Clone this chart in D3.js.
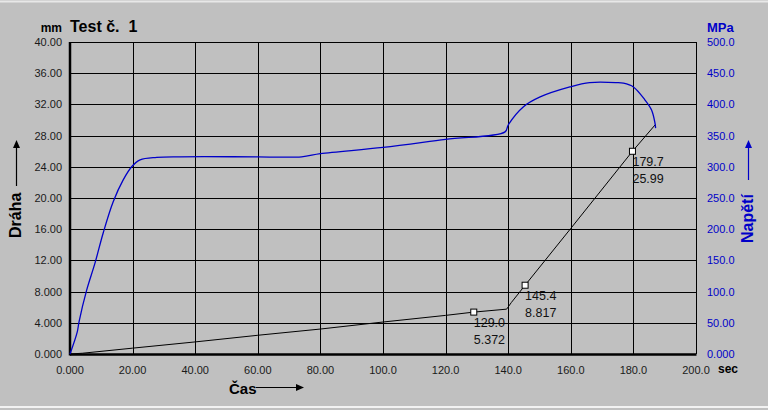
<!DOCTYPE html>
<html><head><meta charset="utf-8">
<script src="https://cdn.jsdelivr.net/npm/d3@7"></script>
<style>html,body{margin:0;padding:0;background:#c0c0c0;}svg{display:block;}</style>
</head><body>
<svg id="c" width="768" height="410"></svg>
<script>
const timeTicks = [0,20,40,60,80,100,120,140,160,180,200];
const timeTickLabels = ["0.000","20.00","40.00","60.00","80.00","100.0","120.0","140.0","160.0","180.0","200.0"];
const drahaTicks = [0,4,8,12,16,20,24,28,32,36,40];
const drahaTickLabels = ["0.000","4.000","8.000","12.00","16.00","20.00","24.00","28.00","32.00","36.00","40.00"];
const napetiTicks = [0,50,100,150,200,250,300,350,400,450,500];
const napetiTickLabels = ["0.000","50.00","100.0","150.0","200.0","250.0","300.0","350.0","400.0","450.0","500.0"];

// Dráha (mm) vs čas (s)
const drahaTime = [0,4,20,40,60,80,100,120,129.0,139.5,141,145.4,160,179.7,187];
const drahaMM   = [0,0.1,0.75,1.55,2.4,3.2,4.1,4.95,5.372,5.75,6.6,8.817,16.1,25.99,29.4];

// Napětí (MPa) vs čas (s)
const napetiTime = [0,2.3,2.9,5.3,8,10.6,13.8,17,19.7,22.4,27.7,35.1,60,74,80,100,120,139,140,144.8,150.2,159.7,166,174.6,176.8,180,183.7,185.8,186.9,187.1];
const napetiMPa  = [0,35,52,102,146,194,244,279,300,311,315,316,316,316,321,331,344,356,367,396,412,428,435,435,434,428,407,391,370,362];

// Marked points
const markTime = [129.0,145.4,179.7];
const markMM   = [5.372,8.817,25.99];

const svg = d3.select("#c");
const L=70,R=696,T=42,B=354;
const x = d3.scaleLinear().domain([0,200]).range([L,R]);
const yL = d3.scaleLinear().domain([0,40]).range([B,T]);
const yR = d3.scaleLinear().domain([0,500]).range([B,T]);

svg.append("rect").attr("width",768).attr("height",410).attr("fill","#c0c0c0");
svg.append("line").attr("x1",0).attr("x2",768).attr("y1",1.5).attr("y2",1.5).attr("stroke","#e8e8e8").attr("stroke-width",2);
svg.append("line").attr("x1",0).attr("x2",768).attr("y1",407).attr("y2",407).attr("stroke","#f2f2f2").attr("stroke-width",2);

// grid
const g = svg.append("g");
g.selectAll("line.v").data(timeTicks).join("line")
  .attr("x1",d=>Math.round(x(d))+0.5).attr("x2",d=>Math.round(x(d))+0.5).attr("y1",T).attr("y2",B)
  .attr("stroke","#000").attr("stroke-width",1);
g.selectAll("line.h").data(drahaTicks).join("line")
  .attr("y1",d=>Math.round(yL(d))+0.5).attr("y2",d=>Math.round(yL(d))+0.5).attr("x1",L).attr("x2",R)
  .attr("stroke","#000").attr("stroke-width",1);
// thick axes
svg.append("line").attr("x1",L).attr("x2",L).attr("y1",T).attr("y2",B+1.5).attr("stroke","#000").attr("stroke-width",2.5);
svg.append("line").attr("x1",L).attr("x2",R+0.5).attr("y1",B+0.5).attr("y2",B+0.5).attr("stroke","#000").attr("stroke-width",2.5);

// tick labels
const tf = "'Liberation Sans', Arial, sans-serif";
svg.selectAll("text.lt").data(drahaTicks).join("text")
  .attr("x",62).attr("y",d=>yL(d)+4).attr("text-anchor","end")
  .attr("font-family",tf).attr("font-size",11).attr("fill","#1a1a1a")
  .text((d,i)=>drahaTickLabels[i]);
svg.selectAll("text.rt").data(napetiTicks).join("text")
  .attr("x",707).attr("y",d=>yR(d)+4).attr("text-anchor","start")
  .attr("font-family",tf).attr("font-size",11).attr("fill","#0000c8")
  .text((d,i)=>napetiTickLabels[i]);
svg.selectAll("text.bt").data(timeTicks).join("text")
  .attr("x",d=>x(d)).attr("y",374).attr("text-anchor","middle")
  .attr("font-family",tf).attr("font-size",11).attr("fill","#1a1a1a")
  .text((d,i)=>timeTickLabels[i]);

// curves
const blueData = napetiTime.map((t,i)=>[t,napetiMPa[i]]);
const blackData = drahaTime.map((t,i)=>[t,drahaMM[i]]);
svg.append("path").datum(blackData)
  .attr("d",d3.line().x(d=>x(d[0])).y(d=>yL(d[1])).curve(d3.curveLinear))
  .attr("fill","none").attr("stroke","#000").attr("stroke-width",1);
svg.append("path").datum(blueData)
  .attr("d",d3.line().x(d=>x(d[0])).y(d=>yR(d[1])).curve(d3.curveCatmullRom.alpha(0.5)))
  .attr("fill","none").attr("stroke","#0000c8").attr("stroke-width",1.3);

// markers
const marks = markTime.map((t,i)=>[t,markMM[i]]);
svg.selectAll("rect.m").data(marks).join("rect")
  .attr("x",d=>x(d[0])-3).attr("y",d=>yL(d[1])-3).attr("width",6).attr("height",6)
  .attr("fill","#fff").attr("stroke","#000").attr("stroke-width",1);
svg.selectAll("text.m1").data(marks).join("text")
  .attr("x",d=>x(d[0])).attr("y",d=>yL(d[1])+15).attr("font-family",tf).attr("font-size",12.5).attr("fill","#111")
  .text(d=>d[0].toFixed(1));
svg.selectAll("text.m2").data(marks).join("text")
  .attr("x",d=>x(d[0])).attr("y",d=>yL(d[1])+32).attr("font-family",tf).attr("font-size",12.5).attr("fill","#111")
  .text(d=>d[1].toFixed(d[1]<10?3:2));

// titles
svg.append("text").attr("x",62).attr("y",32).attr("text-anchor","end").attr("font-family",tf).attr("font-weight","bold").attr("font-size",12).text("mm");
svg.append("text").attr("x",70).attr("y",32).attr("font-family",tf).attr("font-weight","bold").attr("font-size",16).text("Test č.\u00a0 1");
svg.append("text").attr("x",707).attr("y",32).attr("font-family",tf).attr("font-weight","bold").attr("font-size",13).attr("fill","#0000c8").text("MPa");
svg.append("text").attr("x",718).attr("y",373).attr("font-family",tf).attr("font-weight","bold").attr("font-size",12).text("sec");

// Čas
svg.append("text").attr("x",229).attr("y",394).attr("font-family",tf).attr("font-weight","bold").attr("font-size",15).text("Čas");
const arrow = (x1,y1,x2,y2,col)=>{
  svg.append("line").attr("x1",x1).attr("y1",y1).attr("x2",x2).attr("y2",y2).attr("stroke",col).attr("stroke-width",1.2);
};
arrow(256,387.5,298,387.5,"#000");
svg.append("path").attr("d","M296,384 L304,387.5 L296,391 Z").attr("fill","#000");

// Dráha
svg.append("text").attr("transform","translate(21,238) rotate(-90)").attr("font-family",tf).attr("font-weight","bold").attr("font-size",16).text("Dráha");
arrow(16.5,186,16.5,146,"#000");
svg.append("path").attr("d","M13,148 L16.5,140 L20,148 Z").attr("fill","#000");

// Napětí
svg.append("text").attr("transform","translate(753,243) rotate(-90)").attr("font-family",tf).attr("font-weight","bold").attr("font-size",16).attr("fill","#0000c8").text("Napětí");
arrow(748.5,180,748.5,146,"#0000c8");
svg.append("path").attr("d","M745,148 L748.5,140 L752,148 Z").attr("fill","#0000c8");
</script>
</body></html>
